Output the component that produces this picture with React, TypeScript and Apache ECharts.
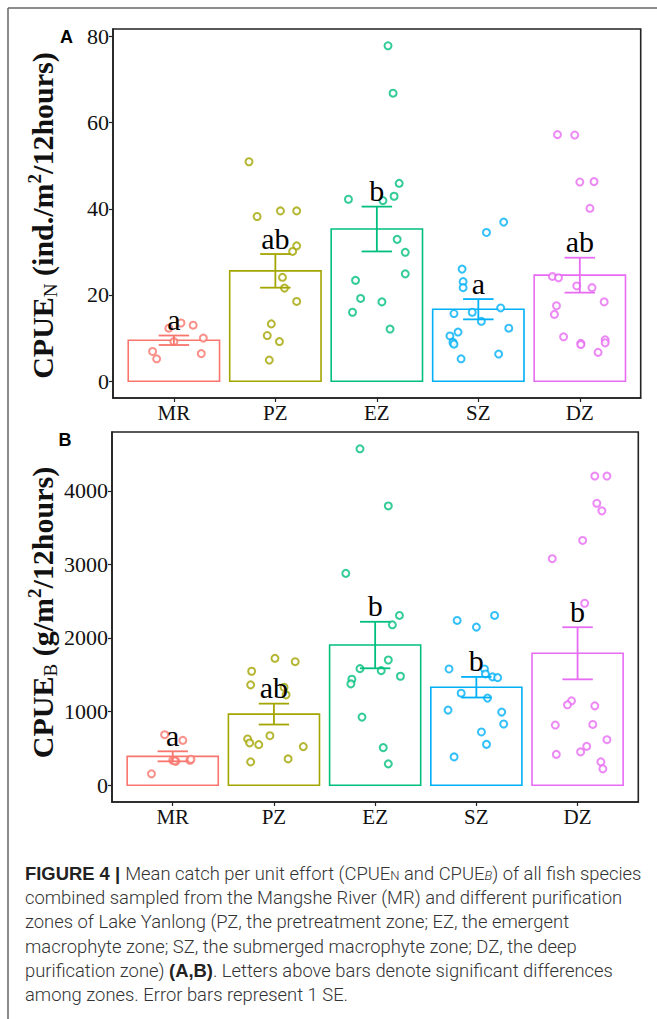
import React, { useEffect, useRef } from "react";
import * as echarts from "echarts";

const categories = ["MR", "PZ", "EZ", "SZ", "DZ"];
const colors = ["#F8766D", "#A3A500", "#00BF7D", "#00B0F6", "#E76BF3"];

// Panel A: CPUE_N
const meanA = [9.5, 25.6, 35.3, 16.7, 24.6];
const seA = [1.1, 3.9, 5.2, 2.35, 4.05];
const lettersA = ["a", "ab", "b", "a", "ab"];
const ticksA = [0, 20, 40, 60, 80];
const pointsA = [
  [12.3, 13.5, 13.0, 10.0, 9.2, 6.9, 5.2, 6.4],
  [50.9, 38.2, 39.5, 39.5, 31.4, 30.1, 24.1, 21.6, 18.5, 13.3, 10.6, 9.2, 4.9],
  [77.8, 66.8, 45.9, 42.2, 41.9, 42.9, 32.9, 29.9, 24.9, 23.4, 19.2, 18.4, 16.0, 12.1],
  [36.9, 34.5, 26.0, 23.1, 21.7, 17.0, 15.7, 16.0, 13.9, 12.3, 11.4, 10.5, 9.0, 8.6, 6.3, 5.2],
  [57.2, 57.1, 46.2, 46.3, 40.1, 24.3, 24.0, 22.1, 21.7, 18.4, 17.5, 15.5, 10.3, 8.8, 8.5, 9.6, 8.9, 6.7],
];
const jitterA = [
  [-0.05, 0.07, 0.19, 0.29, 0.0, -0.21, -0.17, 0.27],
  [-0.26, -0.18, 0.05, 0.21, 0.21, 0.17, 0.07, 0.09, 0.21, -0.04, -0.08, 0.04, -0.06],
  [0.11, 0.16, 0.22, -0.28, 0.06, 0.17, 0.2, 0.28, 0.28, -0.21, -0.16, 0.05, -0.24, 0.13],
  [0.25, 0.08, -0.16, -0.15, -0.15, 0.22, -0.24, -0.06, 0.03, 0.3, -0.2, -0.28, -0.25, -0.24, 0.2, -0.17],
  [-0.22, -0.05, 0.0, 0.14, 0.1, -0.27, -0.21, -0.03, 0.12, 0.24, -0.23, -0.25, -0.16, 0.01, 0.01, 0.25, 0.25, 0.18],
];

// Panel B: CPUE_B
const meanB = [392, 966, 1904, 1331, 1792];
const seB = [68, 142, 316, 140, 354];
const lettersB = ["a", "ab", "b", "b", "b"];
const ticksB = [0, 1000, 2000, 3000, 4000];
const pointsB = [
  [686, 609, 338, 325, 338, 352, 154, 330],
  [1724, 1678, 1548, 1363, 1331, 1227, 672, 628, 574, 551, 524, 357, 317],
  [4570, 3794, 2878, 2306, 2179, 1701, 1583, 1556, 1440, 1376, 1480, 925, 510, 290],
  [2306, 2238, 2148, 1579, 1579, 1511, 1471, 1461, 1250, 1183, 1020, 993, 831, 723, 555, 384],
  [4200, 4200, 3830, 3727, 3325, 3077, 2472, 1146, 1092, 1078, 817, 825, 618, 528, 452, 419, 317, 222],
];
const jitterB = [
  [-0.08, 0.1, 0.0, 0.03, 0.17, 0.18, -0.21, 0.02],
  [0.01, 0.21, -0.22, -0.23, 0.1, 0.12, -0.04, -0.26, -0.24, -0.15, 0.29, 0.14, -0.23],
  [-0.15, 0.13, -0.29, 0.24, 0.17, 0.13, -0.15, 0.06, -0.23, -0.24, 0.25, -0.13, 0.08, 0.13],
  [0.18, -0.19, 0.0, -0.27, 0.08, 0.09, 0.16, 0.21, -0.15, 0.11, -0.28, 0.25, 0.27, 0.05, 0.1, -0.22],
  [0.17, 0.29, 0.19, 0.24, 0.05, -0.25, 0.07, -0.06, -0.1, 0.17, -0.22, 0.15, 0.29, 0.09, 0.03, -0.21, 0.23, 0.25],
];

const captionLines = [
  "{b|FIGURE 4 | }{r|Mean catch per unit effort (CPUE}{s|N}{r| and CPUE}{si|B}{r|) of all fish species}",
  "{r|combined sampled from the Mangshe River (MR) and different purification}",
  "{r|zones of Lake Yanlong (PZ, the pretreatment zone; EZ, the emergent}",
  "{r|macrophyte zone; SZ, the submerged macrophyte zone; DZ, the deep}",
  "{r|purification zone) }{b|(A,B)}{r|. Letters above bars denote significant differences}",
  "{r|among zones. Error bars represent 1 SE.}",
];

const SERIF = "'Liberation Serif', 'Times New Roman', serif";
const SANS = "'Liberation Sans', Arial, sans-serif";
const CAPFONT = "Roboto, 'Liberation Sans', sans-serif";
const BAR_HALF = 0.45;
const CAP_HALF = 0.15;

function buildPanel(idx: number, mean: number[], se: number[], letters: string[], points: number[][], jitter: number[][]) {
  const series: any[] = [];
  series.push({
    type: "custom",
    xAxisIndex: idx,
    yAxisIndex: idx,
    z: 1,
    data: mean.map((m, i) => [i + 1, m]),
    renderItem: (params: any, api: any) => {
      const x = api.value(0);
      const m = api.value(1);
      const p0 = api.coord([x - BAR_HALF, m]);
      const p1 = api.coord([x + BAR_HALF, 0]);
      return {
        type: "rect",
        shape: { x: p0[0], y: p0[1], width: p1[0] - p0[0], height: p1[1] - p0[1] },
        style: { fill: "none", stroke: colors[params.dataIndex], lineWidth: 1.6 },
      };
    },
  });
  points.forEach((arr, i) => {
    series.push({
      type: "scatter",
      xAxisIndex: idx,
      yAxisIndex: idx,
      z: 2,
      symbol: "emptyCircle",
      symbolSize: 7,
      itemStyle: { color: colors[i], borderWidth: 1.2 },
      data: arr.map((v, j) => [i + 1 + jitter[i][j], v]),
    });
  });
  series.push({
    type: "custom",
    xAxisIndex: idx,
    yAxisIndex: idx,
    z: 3,
    data: mean.map((m, i) => [i + 1, m, se[i]]),
    renderItem: (params: any, api: any) => {
      const x = api.value(0);
      const m = api.value(1);
      const s = api.value(2);
      const top = api.coord([x, m + s]);
      const bot = api.coord([x, m - s]);
      const l = api.coord([x - CAP_HALF, m])[0];
      const r = api.coord([x + CAP_HALF, m])[0];
      const st = { stroke: colors[params.dataIndex], lineWidth: 1.8 };
      return {
        type: "group",
        children: [
          { type: "line", shape: { x1: top[0], y1: top[1], x2: bot[0], y2: bot[1] }, style: st },
          { type: "line", shape: { x1: l, y1: top[1], x2: r, y2: top[1] }, style: st },
          { type: "line", shape: { x1: l, y1: bot[1], x2: r, y2: bot[1] }, style: st },
        ],
      };
    },
  });
  series.push({
    type: "custom",
    xAxisIndex: idx,
    yAxisIndex: idx,
    z: 4,
    data: mean.map((m, i) => [i + 1, m + se[i]]),
    renderItem: (params: any, api: any) => {
      const p = api.coord([api.value(0), api.value(1)]);
      return {
        type: "text",
        x: p[0],
        y: p[1] - 16,
        style: {
          text: letters[params.dataIndex],
          fontSize: 30,
          fontFamily: SERIF,
          fill: "#000",
          align: "center",
          verticalAlign: "middle",
        },
      };
    },
  });
  return series;
}

function axisPair(idx: number, ticks: number[], maxPoint: number) {
  const common = {
    axisLine: { show: true, onZero: false, lineStyle: { color: "#222", width: 1.6 } },
    axisTick: { show: true, length: 4, lineStyle: { color: "#222", width: 1.2 } },
    splitLine: { show: false },
  };
  const xAxis = {
    type: "value",
    gridIndex: idx,
    min: 0.4,
    max: 5.6,
    ...common,
    axisTick: { ...common.axisTick, customValues: [1, 2, 3, 4, 5] },
    axisLabel: {
      customValues: [1, 2, 3, 4, 5],
      formatter: (v: number) => categories[Math.round(v) - 1],
      fontFamily: SERIF,
      fontSize: 21,
      color: "#111",
      margin: 4,
    },
  };
  const yAxis = {
    type: "value",
    gridIndex: idx,
    min: -0.05 * maxPoint,
    max: 1.05 * maxPoint,
    ...common,
    axisTick: { ...common.axisTick, customValues: ticks },
    axisLabel: {
      customValues: ticks,
      formatter: (v: number) => String(Math.round(v)),
      fontFamily: SERIF,
      fontSize: 22,
      color: "#111",
      margin: 4,
    },
  };
  return { xAxis, yAxis };
}

function titleText(x: number, y: number, unit: string, sub: string) {
  return {
    type: "text",
    x,
    y,
    rotation: Math.PI / 2,
    style: {
      text: `{m|CPUE}{sub|${sub}}{m| (${unit}}{sup|2}{m|/12hours)}`,
      align: "center",
      verticalAlign: "middle",
      fill: "#111",
      rich: {
        m: { fontFamily: SERIF, fontWeight: "bold", fontSize: 30, lineHeight: 35, fill: "#111" },
        sub: { fontFamily: SERIF, fontSize: 19, lineHeight: 16, verticalAlign: "bottom", fill: "#111" },
        sup: { fontFamily: SERIF, fontWeight: "bold", fontSize: 19, lineHeight: 22, verticalAlign: "top", fill: "#111" },
      },
    },
  };
}

export default function App() {
  const ref = useRef<HTMLDivElement>(null);
  useEffect(() => {
    if (!ref.current) return;
    const chart = echarts.init(ref.current, undefined, { renderer: "svg" });
    const maxA = Math.max(...pointsA.flat());
    const maxB = Math.max(...pointsB.flat());
    const a = axisPair(0, ticksA, maxA);
    const b = axisPair(1, ticksB, maxB);
    const capRich = {
      b: { fontFamily: SANS, fontWeight: "bold", fontSize: 18.4, fill: "#222" },
      r: { fontFamily: CAPFONT, fontWeight: 300, fontSize: 18.4, fill: "#333" },
      s: { fontFamily: CAPFONT, fontWeight: 300, fontSize: 13, lineHeight: 10, verticalAlign: "bottom", fill: "#333" },
      si: { fontFamily: CAPFONT, fontWeight: 300, fontStyle: "italic", fontSize: 13, lineHeight: 10, verticalAlign: "bottom", fill: "#333" },
    };
    const captionBaselines = [879, 903.3, 927.6, 952, 976.2, 1000.4];
    chart.setOption({
      animation: false,
      backgroundColor: "#fff",
      grid: [
        { left: 113, top: 29, width: 527.7, height: 369, show: true, borderColor: "#222", borderWidth: 1.6, backgroundColor: "transparent" },
        { left: 112, top: 432, width: 526.3, height: 370, show: true, borderColor: "#222", borderWidth: 1.6, backgroundColor: "transparent" },
      ],
      xAxis: [a.xAxis, b.xAxis],
      yAxis: [a.yAxis, b.yAxis],
      series: [
        ...buildPanel(0, meanA, seA, lettersA, pointsA, jitterA),
        ...buildPanel(1, meanB, seB, lettersB, pointsB, jitterB),
      ],
      graphic: [
        { type: "line", shape: { x1: 8, y1: 8, x2: 657, y2: 8 }, style: { stroke: "#666", lineWidth: 1.5 } },
        { type: "line", shape: { x1: 8, y1: 8, x2: 8, y2: 1019 }, style: { stroke: "#666", lineWidth: 1.5 } },
        { type: "text", x: 66.5, y: 37, style: { text: "A", fontFamily: SANS, fontWeight: "bold", fontSize: 18, fill: "#000", align: "center", verticalAlign: "middle" } },
        { type: "text", x: 65, y: 440, style: { text: "B", fontFamily: SANS, fontWeight: "bold", fontSize: 18, fill: "#000", align: "center", verticalAlign: "middle" } },
        titleText(42, 215.5, "ind./m", "N"),
        titleText(42, 612.5, "g/m", "B"),
        ...captionLines.map((t, i) => ({
          type: "text",
          x: 25,
          y: captionBaselines[i] - 6,
          style: { text: t, rich: capRich, align: "left", verticalAlign: "middle" },
        })),
      ],
    });
    return () => chart.dispose();
  }, []);
  return (
    <div
      ref={ref}
      style={{ position: "absolute", left: 0, top: 0, width: 657, height: 1019 }}
    />
  );
}
